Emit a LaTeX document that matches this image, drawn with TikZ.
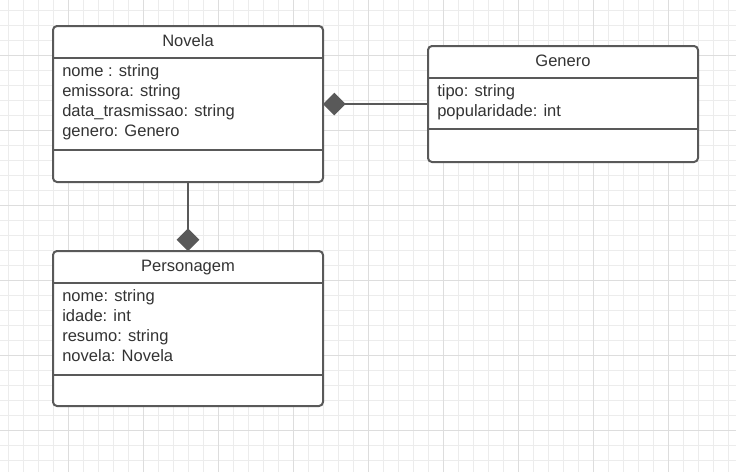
\documentclass[tikz,border=0pt]{standalone}
\usepackage{fontspec}
\setmainfont{Liberation Sans}
\usetikzlibrary{arrows.meta, positioning}
\definecolor{umlline}{RGB}{89,89,89}
\definecolor{umltext}{RGB}{51,51,51}
\definecolor{gridminor}{RGB}{236,236,236}
\definecolor{gridmajor}{RGB}{221,221,221}

\begin{document}
\begin{tikzpicture}[
    x=0.75pt, y=-0.75pt,
    classbox/.style={rectangle, draw=umlline, line width=1.5pt, rounded corners=3pt, fill=white, anchor=north west, minimum width=202.5pt, inner sep=0pt, outer sep=0pt},
    divider/.style={draw=umlline, line width=1.5pt},
    title/.style={font=\fontsize{12.4}{15}\selectfont, text=umltext, anchor=base, inner sep=0pt},
    attr/.style={font=\fontsize{12.4}{15}\selectfont, text=umltext, anchor=base west, inner sep=0pt},
    compose/.style={draw=umlline, line width=1.5pt},
    minorline/.style={draw=gridminor, line width=0.75pt},
    majorline/.style={draw=gridmajor, line width=0.75pt}
]
    \useasboundingbox (0,0) rectangle (736,472);
    \fill[white] (0,0) rectangle (736,472);

    % grid
    \foreach \gx in {8,23,...,736} \draw[minorline] (\gx,0) -- (\gx,472);
    \foreach \gy in {10,25,...,472} \draw[minorline] (0,\gy) -- (736,\gy);
    \foreach \gx in {68,143,...,736} \draw[majorline] (\gx,0) -- (\gx,472);
    \foreach \gy in {55,130,...,472} \draw[majorline] (0,\gy) -- (736,\gy);

    % classes
    \node[classbox, minimum height=117pt] (novela) at (53,26) {};
    \draw[divider] (novela.north west) ++(0,32) -- ++(270,0);
    \draw[divider] (novela.north west) ++(0,124) -- ++(270,0);
    \node[title] (novela-title) at (188,46) {Novela};
    \foreach \txt [count=\i] in {nome : string, emissora: string, data\_trasmissao: string, genero: Genero}
        \node[attr] (novela-a\i) at (62,56+20*\i) {\txt};

    \node[classbox, minimum height=87pt] (genero) at (428,46) {};
    \draw[divider] (genero.north west) ++(0,32) -- ++(270,0);
    \draw[divider] (genero.north west) ++(0,83) -- ++(270,0);
    \node[title] (genero-title) at (563,66) {Genero};
    \foreach \txt [count=\i] in {tipo: string, popularidade: int}
        \node[attr] (genero-a\i) at (437,76+20*\i) {\txt};

    \node[classbox, minimum height=116.25pt] (personagem) at (53,251) {};
    \draw[divider] (personagem.north west) ++(0,32) -- ++(270,0);
    \draw[divider] (personagem.north west) ++(0,124) -- ++(270,0);
    \node[title] (personagem-title) at (188,271) {Personagem};
    \foreach \txt [count=\i] in {nome: string, idade: int, resumo: string, novela: Novela}
        \node[attr] (personagem-a\i) at (62,281+20*\i) {\txt};

    % associations
    \draw[compose, {Diamond[length=17pt, width=17pt]}-] (novela.east) -- (novela.east -| genero.west);
    \draw[compose, -{Diamond[length=17pt, width=17pt]}] (novela.south) -- (personagem.north);
\end{tikzpicture}
\end{document}
